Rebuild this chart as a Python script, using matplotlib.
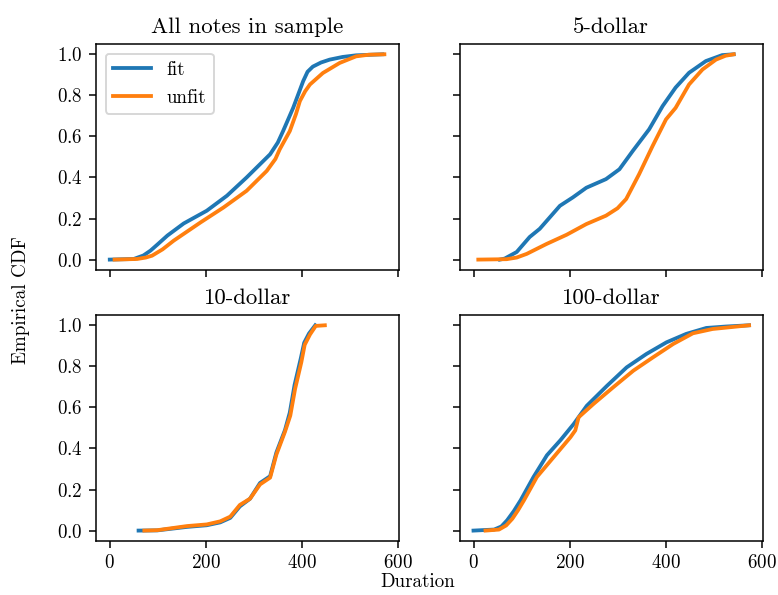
import matplotlib
matplotlib.use("Agg")
import matplotlib.pyplot as plt

plt.rcParams['font.family'] = 'serif'
plt.rcParams['font.serif'] = ['cmr10']
plt.rcParams['mathtext.fontset'] = 'cm'
plt.rcParams['axes.formatter.use_mathtext'] = True

# valeurs (durée, CDF empirique)
all_fit_x = [0, 50, 70, 85, 100, 120, 154, 202, 244, 285, 334, 350, 361, 382, 395, 403, 412, 423, 440, 458, 485, 513, 568]
all_fit_y = [0, 0.003, 0.02, 0.044, 0.075, 0.117, 0.176, 0.238, 0.311, 0.40, 0.513, 0.57, 0.626, 0.739, 0.82, 0.870, 0.915, 0.94, 0.960, 0.974, 0.987, 0.995, 1.0]
all_unfit_x = [10, 57, 75, 88, 110, 133, 189, 237, 285, 327, 345, 354, 375, 388, 396, 407, 417, 444, 479, 513, 540, 572]
all_unfit_y = [0, 0.003, 0.01, 0.019, 0.05, 0.092, 0.181, 0.254, 0.335, 0.432, 0.49, 0.537, 0.626, 0.71, 0.772, 0.82, 0.853, 0.909, 0.958, 0.99, 0.998, 1.0]

d5_fit_x = [55, 65, 90, 117, 138, 159, 180, 207, 235, 276, 304, 332, 366, 394, 421, 449, 484, 518, 542]
d5_fit_y = [0, 0.005, 0.037, 0.11, 0.15, 0.206, 0.262, 0.303, 0.35, 0.392, 0.44, 0.53, 0.635, 0.748, 0.838, 0.91, 0.967, 0.996, 1.0]
d5_unfit_x = [10, 69, 90, 111, 152, 194, 235, 276, 300, 318, 345, 373, 401, 421, 449, 477, 505, 525, 542]
d5_unfit_y = [0, 0.002, 0.01, 0.028, 0.076, 0.121, 0.173, 0.214, 0.25, 0.295, 0.416, 0.553, 0.683, 0.739, 0.853, 0.926, 0.974, 0.993, 1.0]

d10_fit_x = [60, 99, 161, 202, 230, 251, 271, 292, 313, 334, 347, 365, 375, 385, 398, 405, 415, 428]
d10_fit_y = [0, 0.001, 0.018, 0.026, 0.040, 0.062, 0.118, 0.155, 0.232, 0.265, 0.38, 0.49, 0.575, 0.71, 0.84, 0.915, 0.96, 1.0]
d10_unfit_x = [72, 99, 161, 202, 230, 251, 271, 292, 313, 334, 347, 365, 376, 386, 399, 406, 417, 429, 448]
d10_unfit_y = [0, 0.002, 0.022, 0.030, 0.045, 0.068, 0.125, 0.155, 0.225, 0.258, 0.37, 0.482, 0.56, 0.69, 0.82, 0.905, 0.955, 0.997, 1.0]

d100_fit_x = [0, 43, 58, 70, 84, 98, 125, 153, 181, 209, 236, 278, 319, 360, 402, 443, 485, 526, 574]
d100_fit_y = [0, 0.005, 0.02, 0.05, 0.095, 0.147, 0.261, 0.367, 0.44, 0.52, 0.608, 0.705, 0.795, 0.86, 0.917, 0.958, 0.987, 0.994, 1.0]
d100_unfit_x = [25, 53, 68, 81, 93, 105, 132, 167, 202, 212, 219, 250, 291, 333, 374, 416, 457, 498, 574]
d100_unfit_y = [0, 0.005, 0.025, 0.058, 0.10, 0.147, 0.261, 0.358, 0.455, 0.488, 0.552, 0.617, 0.698, 0.779, 0.844, 0.909, 0.961, 0.982, 1.0]

titres = ['All notes in sample', '5-dollar', '10-dollar', '100-dollar']
fit_data = [(all_fit_x, all_fit_y), (d5_fit_x, d5_fit_y), (d10_fit_x, d10_fit_y), (d100_fit_x, d100_fit_y)]
unfit_data = [(all_unfit_x, all_unfit_y), (d5_unfit_x, d5_unfit_y), (d10_unfit_x, d10_unfit_y), (d100_unfit_x, d100_unfit_y)]

dpi = 137
fig, axes = plt.subplots(2, 2, sharex=True, sharey=True, figsize=(778 / dpi, 595 / dpi), dpi=dpi)
plt.subplots_adjust(left=0.1234, right=0.9805, top=0.926, bottom=0.091, wspace=0.2, hspace=0.2)

for ax, titre, (fx, fy), (ux, uy) in zip(axes.flat, titres, fit_data, unfit_data):
    ax.plot(fx, fy, color='#1f77b4', lw=2, label='fit')
    ax.plot(ux, uy, color='#ff7f0e', lw=2, label='unfit')
    ax.set_title(titre, fontsize=12)

axes[0, 0].legend(loc='upper left', fontsize=10)
axes[0, 0].set_xticks([0, 200, 400, 600])
axes[0, 0].set_yticks([0, 0.2, 0.4, 0.6, 0.8, 1.0])

fig.text(0.537, 0.007, 'Duration', ha='center', va='bottom', fontsize=10)
fig.text(0.027, 0.496, 'Empirical CDF', ha='center', va='center', rotation=90, fontsize=10)

plt.savefig('out.png', dpi=dpi)
